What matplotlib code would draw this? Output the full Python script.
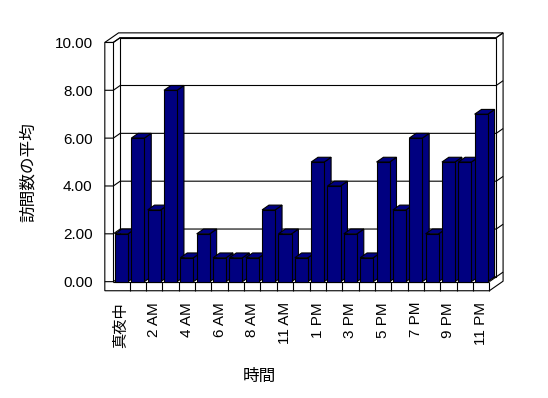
import matplotlib
matplotlib.use("Agg")
import matplotlib.pyplot as plt
from matplotlib.patches import Polygon

# ---- data ----
hours = ["真夜中", "1 AM", "2 AM", "3 AM", "4 AM", "5 AM", "6 AM", "7 AM", "8 AM",
         "9 AM", "11 AM", "12 PM", "1 PM", "2 PM", "3 PM", "4 PM", "5 PM", "6 PM",
         "7 PM", "8 PM", "9 PM", "10 PM", "11 PM"]
visits = [2, 6, 3, 8, 1, 2, 1, 1, 1, 3, 2, 1, 5, 4, 2, 1, 5, 3, 6, 2, 5, 5, 7]
y_ticks = [0, 2, 4, 6, 8, 10]
y_tick_labels = ["0.00", "2.00", "4.00", "6.00", "8.00", "10.00"]
x_title = "時間"
y_title = "訪問数の平均"

plt.rcParams['font.family'] = ['Liberation Sans', 'Noto Sans CJK JP']

W, H = 548, 398
fig = plt.figure(figsize=(W / 100, H / 100), dpi=100)
fig.patch.set_facecolor("white")

n = len(visits)
vmax = y_ticks[-1]
# axes placed so that front plane spans categories 0..n
ax = fig.add_axes([93.7 / W, (H - 300.8) / H, (505.7 - 93.7) / W, (300.8 - 23.3) / H])
ax.set_xlim(-1.2, n + 1.0)
ax.set_ylim(-0.8, 10.8)
ax.axis("on")
for s in ax.spines.values():
    s.set_visible(False)
ax.set_facecolor("none")

dx, dy = 0.42, 0.20      # depth vector (data units)
t = 0.52                 # left wall thickness
f = 0.38                 # floor thickness
lw = 0.8
K = "black"

def poly(pts, z, fc="white"):
    ax.add_patch(Polygon(pts, closed=True, facecolor=fc, edgecolor=K, lw=lw,
                         zorder=z, joinstyle="miter"))

def line(xs, ys, z):
    ax.plot(xs, ys, color=K, lw=lw, zorder=z, solid_capstyle="butt")

# outer silhouette of the box (walls + floor slabs)
poly([(-t, -f), (n, -f), (n + 2 * dx, -f + 2 * dy), (n + 2 * dx, vmax + 2 * dy),
      (-t + 2 * dx, vmax + 2 * dy), (-t, vmax)], 0.5)
# back wall inner face
poly([(dx, dy), (n + dx, dy), (n + dx, vmax + dy), (dx, vmax + dy)], 1)
# left wall front face top + inner edges
line([-t, 0], [vmax, vmax], 1.2)
line([0, 0], [0, vmax], 1.2)
line([0, dx], [vmax, vmax + dy], 1.2)
line([n + dx, n + 2 * dx], [vmax + dy, vmax + 2 * dy], 1.2)
# floor top front edge and right edge
line([0, n], [0, 0], 1.2)
line([n, n], [-f, 0], 1.2)
line([n, n + dx], [0, dy], 1.2)
# category dividers on floor front face
for i in range(1, n):
    line([i, i], [-f, 0], 1.2)
# value ticks on left wall and gridlines on back wall
for v in y_ticks:
    line([-t, 0, dx, n + dx], [v, v, v + dy, v + dy], 1.5)
    line([n + dx, n + 2 * dx], [v + dy, v + 2 * dy], 1.5)

# bars (front, side, top)
bw = 0.80
g = (1 - bw) / 2
navy = "#000080"
for i, h in enumerate(visits):
    x0, x1 = i + g, i + 1 - g
    z = 3 + i * 0.01
    ax.bar(i + 0.5, h, width=bw, bottom=0, color=navy, edgecolor=K, lw=lw, zorder=z + 0.005)
    poly([(x1, 0), (x1 + dx, dy), (x1 + dx, h + dy), (x1, h)], z, fc=navy)
    poly([(x0, h), (x1, h), (x1 + dx, h + dy), (x0 + dx, h + dy)], z, fc=navy)

ax.set_yticks(y_ticks)
ax.set_yticklabels(y_tick_labels, fontsize=11)
ax.set_xticks([i + 0.5 for i in range(0, n, 2)])
ax.set_xticklabels(hours[::2], rotation=90, fontsize=11)
ax.tick_params(axis="both", length=0)
ax.tick_params(axis="y", pad=0.8)
ax.tick_params(axis="x", pad=0.8)

fig.text(28.3 / W, 1 - 172.5 / H, y_title, rotation=90, ha="center", va="center", fontsize=12)
fig.text(259 / W, 1 - 376 / H, x_title, ha="center", va="center", fontsize=12)

fig.savefig("out.png", dpi=100, facecolor="white")
